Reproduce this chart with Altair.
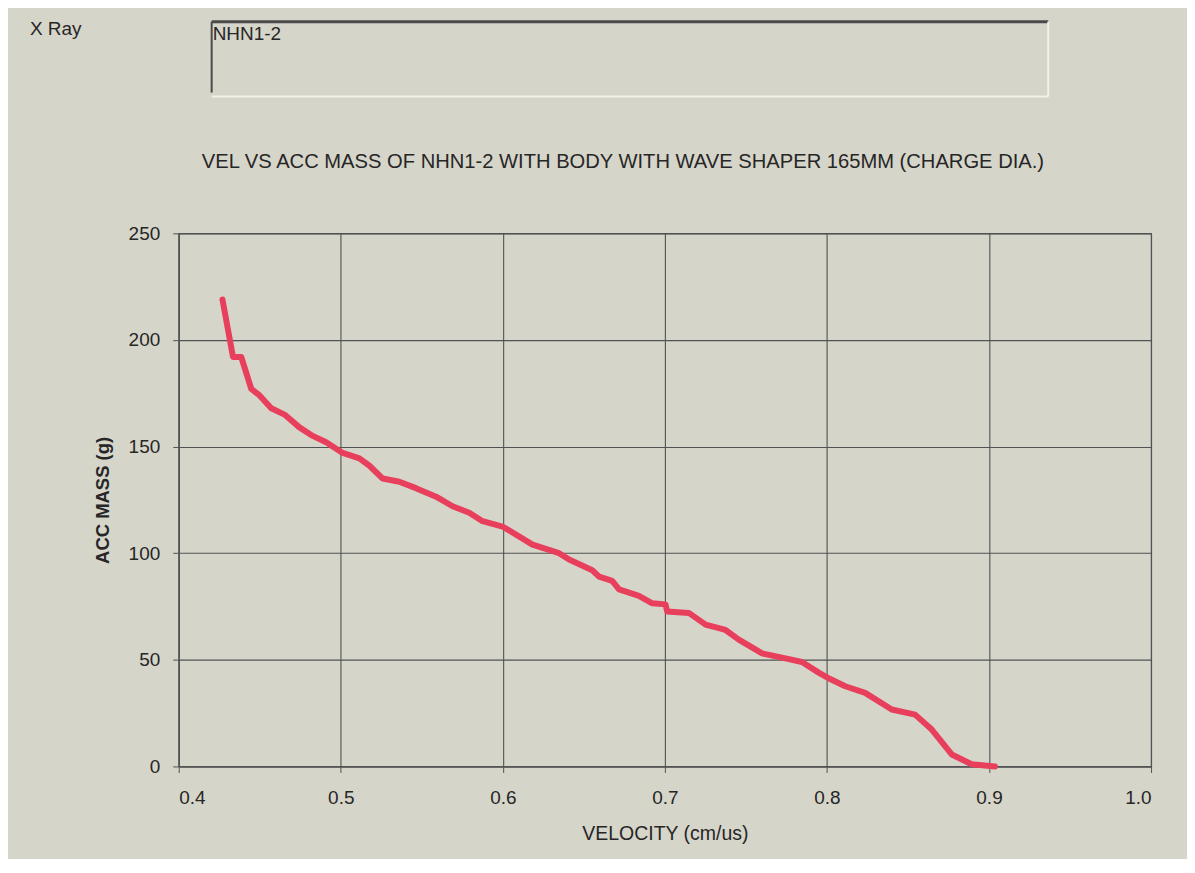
import altair as alt
import pandas as pd

velocity = [0.427, 0.4335, 0.4386, 0.4448, 0.4499, 0.4571, 0.4653, 0.4745, 0.4827, 0.491,
            0.5012, 0.5115, 0.5177, 0.5259, 0.5361, 0.5464, 0.5588, 0.569, 0.5793, 0.5875,
            0.5998, 0.6183, 0.6347, 0.6409, 0.6552, 0.6594, 0.6675, 0.6717, 0.684, 0.6922,
            0.7004, 0.7014, 0.7148, 0.7251, 0.7374, 0.7456, 0.76, 0.7723, 0.7846, 0.7949,
            0.802, 0.8113, 0.8236, 0.84, 0.8544, 0.8647, 0.877, 0.8893, 0.9037]
acc_mass = [219, 192, 192, 177, 174, 168, 165, 159, 155, 152,
            147, 144.5, 141, 135, 133.5, 130.5, 126.5, 122, 119, 115,
            112.5, 104, 100, 97, 92, 89, 87, 83, 80, 76.5,
            76, 72.7, 72, 66.5, 64, 59.5, 53, 51, 49, 44,
            41, 37.6, 34.5, 26.7, 24.3, 17.3, 5.6, 1, 0]

x_ticks = [0.4, 0.5, 0.6, 0.7, 0.8, 0.9, 1.0]
y_ticks = [0, 50, 100, 150, 200, 250]

title_text = "VEL VS ACC MASS OF NHN1-2 WITH BODY  WITH WAVE SHAPER 165MM (CHARGE DIA.)"
label_left = "X Ray"
box_text = "NHN1-2"

df = pd.DataFrame({"v": velocity, "m": acc_mass})
dummy = pd.DataFrame({"a": [0]})

FONT = "Liberation Sans"
BG = "#d6d5ca"
GRID = "#505353"
TXT = "#262626"

line = alt.Chart(df).mark_line(color="#e8405c", strokeWidth=6, strokeJoin="round", strokeCap="round").encode(
    x=alt.X("v:Q", scale=alt.Scale(domain=[0.4, 1.0], nice=False),
            axis=alt.Axis(values=x_ticks, format=".1f", title="VELOCITY (cm/us)",
                          titleFontWeight="normal", titlePadding=17, labelPadding=16)),
    y=alt.Y("m:Q", scale=alt.Scale(domain=[0, 250], nice=False),
            axis=alt.Axis(values=y_ticks, format="d", title="ACC MASS (g)",
                          titleFontWeight="bold", titleFontSize=18.5, titlePadding=16, labelPadding=13)),
)

def txt(text, x, y, align="left", size=19):
    return alt.Chart(dummy).mark_text(text=text, align=align, baseline="middle", font=FONT,
                                      fontSize=size, color=TXT).encode(
        x=alt.value(x), y=alt.value(y))

def rule(x1, y1, x2, y2, color, w):
    return alt.Chart(dummy).mark_rule(color=color, strokeWidth=w).encode(
        x=alt.value(x1), x2=alt.value(x2), y=alt.value(y1), y2=alt.value(y2))

title = txt(title_text, 445, -71, align="center", size=20.2)
xray = txt(label_left, -149, -205, size=19)
nhn = txt(box_text, 34, -200, size=19)

box = (rule(33, -212, 871, -212, "#4a4a4a", 3)
       + rule(33, -212, 33, -141, "#4a4a4a", 2)
       + rule(33, -137, 871, -137, "#f2f1ea", 2)
       + rule(871, -212, 871, -137, "#f2f1ea", 2))

chart = alt.layer(line, title, xray, nhn, box).properties(
    width=974, height=534,
    autosize=alt.AutoSizeParams(type="none"),
    padding={"left": 171, "top": 225, "right": 36, "bottom": 92},
    background=BG,
).configure_view(
    stroke=GRID, strokeWidth=1.2, fill=BG
).configure_axis(
    labelFont=FONT, titleFont=FONT, labelFontSize=19, titleFontSize=19.5,
    labelColor=TXT, titleColor=TXT,
    gridColor=GRID, gridOpacity=1, gridWidth=1.1,
    domainColor=GRID, tickColor=GRID, tickSize=6, domainWidth=1.2,
)

chart.save("out.html", embed_options={"renderer": "svg", "actions": False})
